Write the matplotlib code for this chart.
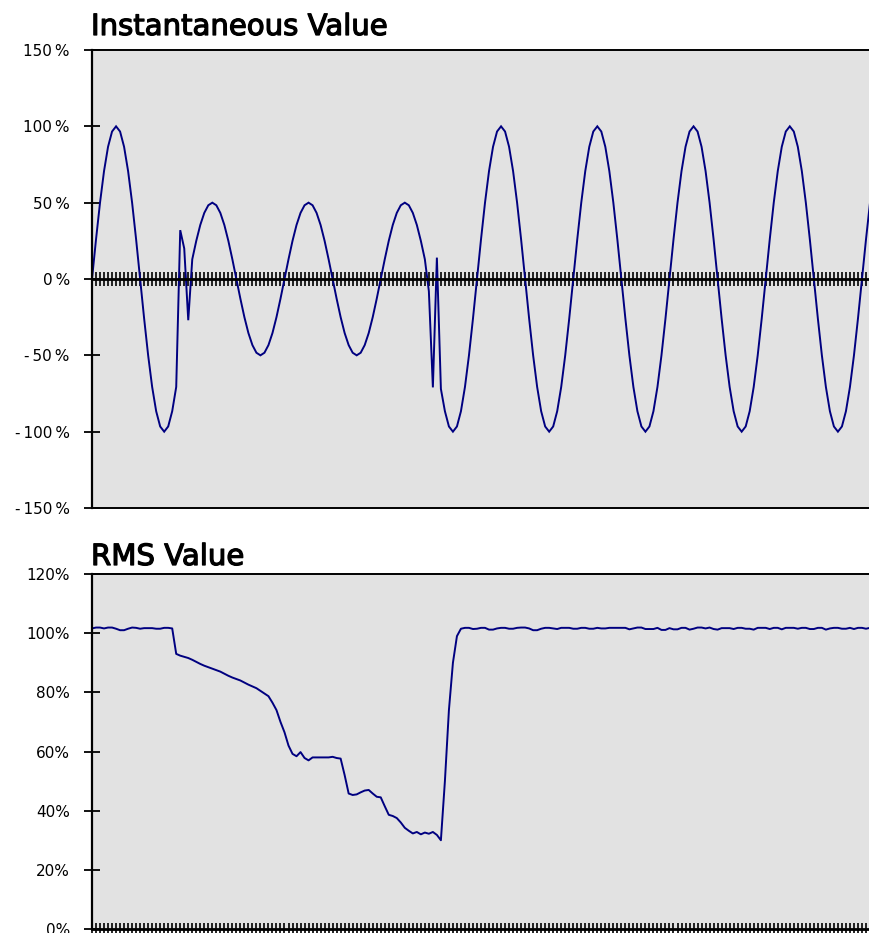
import matplotlib
matplotlib.use("Agg")
import matplotlib.pyplot as plt
import matplotlib.patheffects as pe
import numpy as np

plt.rcParams['font.family'] = ['DejaVu Sans']

# Instantaneous waveform, percent of nominal (24 samples per cycle)
inst_values = [
    0, 25.9, 50, 70.7, 86.6, 96.6, 100, 96.6, 86.6, 70.7, 50, 25.9,
    0, -25.9, -50, -70.7, -86.6, -96.6, -100, -96.6, -86.6, -70.7, 32, 20,
    -27, 12.9, 25, 35.4, 43.3, 48.3, 50, 48.3, 43.3, 35.4, 25, 12.9,
    0, -12.9, -25, -35.4, -43.3, -48.3, -50, -48.3, -43.3, -35.4, -25, -12.9,
    0, 12.9, 25, 35.4, 43.3, 48.3, 50, 48.3, 43.3, 35.4, 25, 12.9,
    0, -12.9, -25, -35.4, -43.3, -48.3, -50, -48.3, -43.3, -35.4, -25, -12.9,
    0, 12.9, 25, 35.4, 43.3, 48.3, 50, 48.3, 43.3, 35.4, 25, 12.9,
    -8, -71, 14, -72, -86.6, -96.6, -100, -96.6, -86.6, -70.7, -50, -25.9,
    0, 25.9, 50, 70.7, 86.6, 96.6, 100, 96.6, 86.6, 70.7, 50, 25.9,
    0, -25.9, -50, -70.7, -86.6, -96.6, -100, -96.6, -86.6, -70.7, -50, -25.9,
    0, 25.9, 50, 70.7, 86.6, 96.6, 100, 96.6, 86.6, 70.7, 50, 25.9,
    0, -25.9, -50, -70.7, -86.6, -96.6, -100, -96.6, -86.6, -70.7, -50, -25.9,
    0, 25.9, 50, 70.7, 86.6, 96.6, 100, 96.6, 86.6, 70.7, 50, 25.9,
    0, -25.9, -50, -70.7, -86.6, -96.6, -100, -96.6, -86.6, -70.7, -50, -25.9,
    0, 25.9, 50, 70.7, 86.6, 96.6, 100, 96.6, 86.6, 70.7, 50, 25.9,
    0, -25.9, -50, -70.7, -86.6, -96.6, -100, -96.6, -86.6, -70.7, -50, -25.9,
    0, 25.9, 50,
]

# RMS value, percent of nominal, same sample positions
rms_values = [
    101.6, 101.9, 101.9, 101.6, 101.9, 101.9, 101.5, 101.0, 101.0, 101.5, 101.9,
    101.8, 101.5, 101.7, 101.7, 101.7, 101.5, 101.5, 101.8, 101.8, 101.6,
    93.0, 92.4, 92.0, 91.6, 91.0, 90.3, 89.6, 89.0, 88.5, 88.0, 87.5, 87.0,
    86.3, 85.6, 85.0, 84.5, 84.0, 83.3, 82.6, 82.0, 81.4, 80.5, 79.6, 78.7,
    76.5, 74.0, 70.0, 66.5, 62.0, 59.2, 58.4, 59.8, 57.8, 57.0, 58.0, 58.0,
    58.0, 58.0, 58.0, 58.2, 57.8, 57.6,
    52.0, 45.8, 45.3, 45.5, 46.2, 46.8, 47.0, 45.8, 44.7, 44.5,
    41.5, 38.6, 38.2, 37.5, 36.0, 34.2, 33.2, 32.3, 32.8, 32.0,
    32.6, 32.2, 32.8, 31.8, 30.0, 50.0, 74.0, 90.0, 99.0, 101.5,
    101.8, 101.8, 101.4, 101.5, 101.8, 101.8, 101.2, 101.2, 101.6, 101.8, 101.8, 101.5,
    101.5, 101.8, 101.9, 101.9, 101.6, 101.0, 101.0, 101.5, 101.8, 101.8, 101.6, 101.4,
    101.8, 101.8, 101.8, 101.5, 101.5, 101.8, 101.8, 101.5, 101.5, 101.8, 101.6, 101.6,
    101.8, 101.8, 101.8, 101.8, 101.8, 101.3, 101.6, 101.9, 101.9, 101.4, 101.4, 101.4,
    101.8, 101.1, 101.1, 101.7, 101.3, 101.3, 101.8, 101.8, 101.2, 101.5, 101.9, 101.9,
    101.6, 101.9, 101.4, 101.2, 101.7, 101.7, 101.7, 101.4, 101.8, 101.8, 101.5, 101.5,
    101.2, 101.8, 101.8, 101.8, 101.4, 101.8, 101.8, 101.3, 101.8, 101.8, 101.8, 101.5,
    101.8, 101.8, 101.4, 101.4, 101.8, 101.8, 101.2, 101.6, 101.8, 101.8, 101.5, 101.5,
    101.8, 101.4, 101.8, 101.8, 101.5, 101.8,
]

inst_ticks = [-150, -100, -50, 0, 50, 100, 150]
inst_tick_labels = ["-\u2009150\u2009%", "-\u2009100\u2009%", "-\u200950\u2009%", "0\u2009%",
                    "50\u2009%", "100\u2009%", "150\u2009%"]
rms_ticks = [0, 20, 40, 60, 80, 100, 120]
rms_tick_labels = ["0%", "20%", "40%", "60%", "80%", "100%", "120%"]

titles = ["Instantaneous Value", "RMS Value"]

W, H = 870, 933
fig = plt.figure(figsize=(W / 100, H / 100), dpi=100)

def px_axes(left, top, right, bottom):
    return fig.add_axes([left / W, 1 - bottom / H, (right - left) / W, (bottom - top) / H])

BG = '#E2E2E2'
LINE = '#000080'
samples = np.arange(len(inst_values))
x_max = 193.6

# --- instantaneous waveform ---
ax1 = px_axes(92, 50, 870, 508)
ax1.set_facecolor(BG)
ax1.plot(samples, inst_values, color=LINE, lw=1.4, solid_joinstyle='miter')
ax1.set_xlim(0, x_max)
ax1.set_ylim(-150, 150)
ax1.spines['right'].set_visible(False)
ax1.spines['bottom'].set_position(('data', 0))
ax1.spines['bottom'].set_linewidth(2.0)
ax1.spines['left'].set_linewidth(1.6)
ax1.spines['top'].set_linewidth(1.4)
ax1.axhline(-150, color='black', lw=1.4, clip_on=False, zorder=5)
ax1.set_xticks(samples)
ax1.set_xticklabels([])
ax1.tick_params(axis='x', direction='inout', length=10, width=1.2, color='black')
ax1.set_yticks(inst_ticks)
ax1.set_yticklabels(inst_tick_labels)
ax1.tick_params(axis='y', direction='inout', length=12, width=1.3, pad=10,
                labelsize=11, colors='black')

# --- RMS ---
ax2 = px_axes(92, 574, 870, 929)
ax2.set_facecolor(BG)
ax2.plot(samples, rms_values, color=LINE, lw=1.4)
ax2.set_xlim(0, x_max)
ax2.set_ylim(0, 120)
ax2.spines['right'].set_visible(False)
ax2.spines['bottom'].set_linewidth(2.0)
ax2.spines['left'].set_linewidth(1.6)
ax2.spines['top'].set_linewidth(1.4)
ax2.set_xticks(samples)
ax2.set_xticklabels([])
ax2.tick_params(axis='x', direction='inout', length=8, width=1.2, color='black')
ax2.set_yticks(rms_ticks)
ax2.set_yticklabels(rms_tick_labels)
ax2.tick_params(axis='y', direction='inout', length=12, width=1.3, pad=10,
                labelsize=11, colors='black')

heavy = [pe.withStroke(linewidth=0.9, foreground='black')]
fig.text(91 / W, 1 - 35 / H, titles[0], fontsize=21, va='baseline', ha='left',
         path_effects=heavy)
fig.text(91 / W, 1 - 565 / H, titles[1], fontsize=21, va='baseline', ha='left',
         path_effects=heavy)

fig.savefig('out.png', dpi=100)
